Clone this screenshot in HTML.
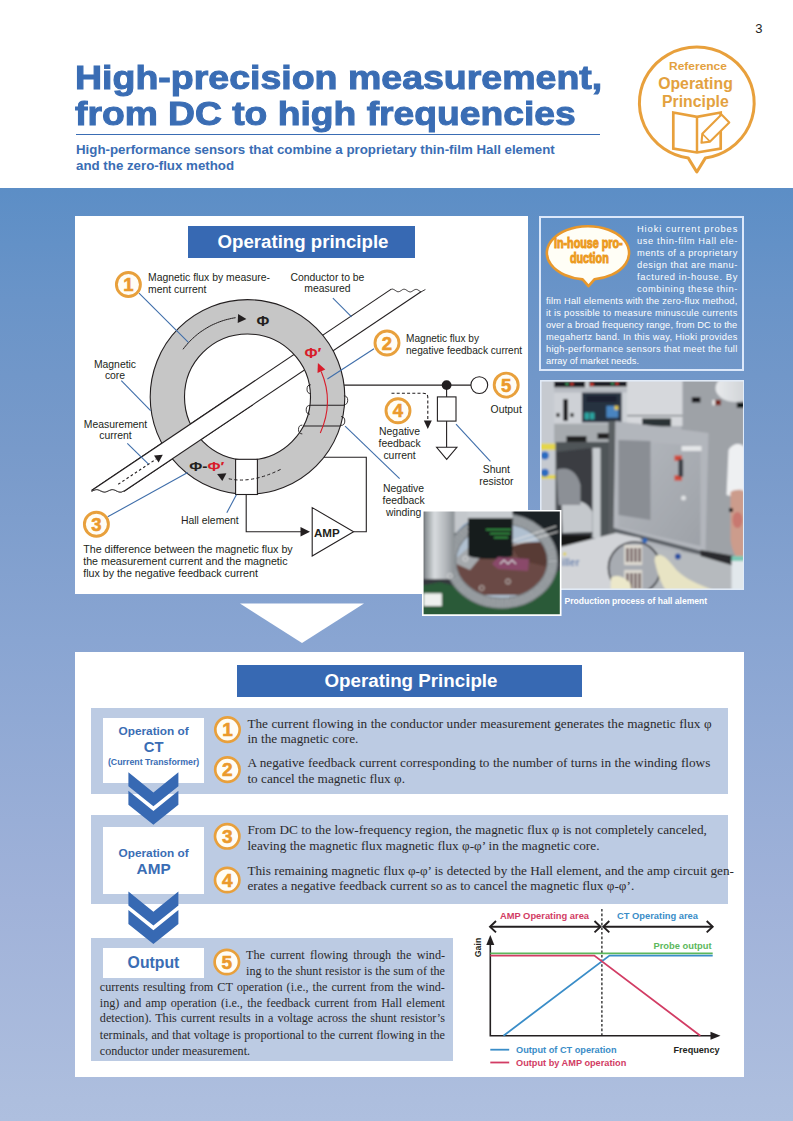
<!DOCTYPE html>
<html><head><meta charset="utf-8">
<style>
html,body{margin:0;padding:0;}
body{width:793px;height:1121px;position:relative;overflow:hidden;background:#fff;font-family:"Liberation Sans",sans-serif;}
.a{position:absolute;}
#band{left:0;top:188px;width:793px;height:933px;background:linear-gradient(rgb(92,142,198) 0px,rgb(106,148,200) 112px,rgb(120,154,202) 262px,rgb(137,165,210) 452px,rgb(160,178,217) 712px,rgb(173,190,222) 912px,rgb(174,191,223) 933px);}
#pnum{left:755.3px;top:20.5px;font-size:13px;color:#222;}
.t1{font-weight:bold;font-size:33.2px;line-height:40px;color:#3a6db4;white-space:nowrap;-webkit-text-stroke:1px #3a6db4;transform-origin:0 0;transform:scaleX(1.13);}
#tline{left:76px;top:134px;width:524px;height:1.3px;background:#3a6db4;}
#sub{left:76px;top:142px;font-weight:bold;font-size:13.3px;line-height:16px;color:#3a6db4;white-space:nowrap;}
.wbox{background:#fff;}
.tbar{background:#3769b3;color:#fff;font-weight:bold;text-align:center;box-sizing:border-box;padding-left:3px;}
.serif{font-family:"Liberation Serif",serif;color:#2a2a2a;font-size:13px;line-height:15.7px;white-space:nowrap;}
.panel{background:#bccbe3;}
.lab{background:#fff;color:#3a6db4;font-weight:bold;text-align:center;}
#info{left:546px;top:222px;width:191px;font-size:9.1px;line-height:12px;color:#fff;text-align:justify;}
</style></head>
<body>
<div class="a" id="pnum">3</div>
<div class="a t1" style="left:75px;top:58px;">High-precision measurement,</div>
<div class="a t1" style="left:75px;top:94px;transform:scaleX(1.122);">from DC to high frequencies</div>
<div class="a" id="tline"></div>
<div class="a" id="sub">High-performance sensors that combine a proprietary thin-film Hall element<br>and the zero-flux method</div>

<div class="a" id="band"></div>

<div class="a wbox" style="left:75px;top:216px;width:453px;height:378px;"></div>
<div class="a tbar" style="left:188px;top:226px;width:227px;height:32px;font-size:18.65px;line-height:32px;">Operating principle</div>

<div class="a" style="left:539px;top:216px;width:201px;height:151px;border:2px solid #dce8fa;"></div>

<div class="a wbox" style="left:75px;top:652px;width:669px;height:425px;"></div>
<div class="a tbar" style="left:237px;top:665px;width:345px;height:32px;font-size:18.75px;line-height:32.6px;">Operating Principle</div>

<div class="a panel" style="left:91px;top:708px;width:637px;height:86px;"></div>
<div class="a panel" style="left:91px;top:815px;width:637px;height:89px;"></div>
<div class="a panel" style="left:91px;top:938px;width:362px;height:123px;"></div>

<div class="a lab" style="left:103px;top:718px;width:101px;height:65px;"></div>
<div class="a lab" style="left:103px;top:827px;width:101px;height:67px;"></div>
<div class="a lab" style="left:103px;top:948px;width:101px;height:30px;"></div>

<svg class="a" style="left:539.5px;top:380px" width="204.5" height="210" viewBox="539.5 380 204.5 210">
<defs><filter id="bl1" x="-5%" y="-5%" width="110%" height="110%"><feGaussianBlur stdDeviation="0.9"/></filter>
<linearGradient id="dg" x1="0" y1="0" x2="1" y2="1"><stop offset="0" stop-color="#b4b8be"/><stop offset="1" stop-color="#9ea2a8"/></linearGradient>
<linearGradient id="cl" x1="0" y1="0" x2="1" y2="0"><stop offset="0" stop-color="#e8eaec"/><stop offset="1" stop-color="#c8ccd0"/></linearGradient></defs>
<g filter="url(#bl1)">
<rect x="535" y="376" width="215" height="220" fill="#b0b4ba"/>
<!-- right cabinet -->
<rect x="681" y="376" width="70" height="185" fill="#9ea2a7"/>
<rect x="691.3" y="397.2" width="8.6" height="5.3" fill="#16181a"/>
<rect x="711.8" y="399.9" width="3" height="5.3" fill="#e8e8e8"/>
<rect x="714.8" y="399.9" width="5.6" height="5.3" fill="#7a2a22"/>
<rect x="736.3" y="402.5" width="8" height="5.3" fill="#101214"/>
<ellipse cx="735" cy="388" rx="20" ry="14" fill="url(#cl)"/>
<!-- top light panel right -->
<rect x="626" y="376" width="56" height="50" fill="#d6d8dc"/>
<rect x="626" y="415" width="56" height="1.2" fill="#6a6e72"/>
<rect x="641.6" y="418.4" width="29" height="8" fill="#2a3036"/>
<!-- left column -->
<rect x="535" y="376" width="20.5" height="140" fill="#c6cad0"/>
<rect x="535" y="443.6" width="20" height="6.4" fill="#e4d64c"/>
<rect x="535" y="475" width="20" height="4" fill="#e4d64c"/>
<circle cx="544.3" cy="455.5" r="4" fill="#2a6cc0"/>
<circle cx="544.3" cy="472.7" r="4" fill="#2a6cc0"/>
<!-- control panel -->
<rect x="553.6" y="376" width="73" height="48" fill="#ced1d6"/>
<rect x="553.6" y="381.3" width="31" height="6" fill="#16181a"/>
<rect x="588.7" y="381.3" width="37.7" height="5.3" fill="#16181a"/>
<circle cx="591.3" cy="384.4" r="1.9" fill="#d03028"/>
<circle cx="571.4" cy="384" r="1.7" fill="#d03028"/>
<circle cx="566.5" cy="384" r="1.4" fill="#38a060"/>
<circle cx="612" cy="383.6" r="1.4" fill="#38a060"/>
<circle cx="616.5" cy="383.6" r="1.6" fill="#d03028"/>
<rect x="553.6" y="388" width="73" height="4.5" fill="#b8bcc2"/>
<rect x="562.8" y="399" width="4.7" height="22" fill="#1a1c1e"/>
<rect x="556" y="413" width="3" height="4" fill="#1a1c1e"/>
<rect x="570" y="413" width="3" height="4" fill="#1a1c1e"/>
<rect x="581.4" y="392.6" width="39.7" height="29.8" fill="#283040"/>
<rect x="584" y="412.5" width="4.5" height="7" fill="#2aa4a0"/>
<rect x="589.5" y="412.5" width="4.5" height="7" fill="#2aa4a0"/>
<rect x="605.9" y="405.8" width="11.9" height="11.9" fill="#4a84c0"/>
<rect x="614" y="405.8" width="3.8" height="4" fill="#e0c44a"/>
<rect x="586" y="396" width="30" height="6" fill="#1a2230"/>
<!-- opening band -->
<rect x="553.6" y="423.7" width="86" height="18.5" fill="#a6aaae"/>
<rect x="566" y="436" width="20" height="6" fill="#202224"/>
<rect x="597" y="433" width="14" height="6" fill="#202224"/>
<!-- machine interior -->
<rect x="555" y="442" width="58" height="105" fill="#505458"/>
<path d="M556,452 L590,448 L596,470 L596,540 L560,545 Z" fill="#3a3e42"/>
<path d="M561,505 C570,498 585,498 592,512 L592,532 L562,533 Z" fill="#c4c8cc"/>
<path d="M556,470 C566,466 576,470 580,485 L580,505 L558,505 Z" fill="#8c9096"/>
<rect x="592" y="448" width="8" height="90" fill="#c8ccd0"/>
<rect x="560" y="535" width="30" height="12" fill="#141618"/>
<rect x="608" y="421" width="7" height="125" fill="#5a5e62"/>
<!-- door -->
<polygon points="615,421 708,433 705,552 613,528" fill="#b2b6bc"/>
<polygon points="620,440 700,446 700,546 618,527" fill="url(#dg)"/>
<polygon points="618,440 650,441 650,520 618,515" fill="#8a8e94"/>
<rect x="674" y="455.5" width="7.4" height="5.3" fill="#d04a3a"/>
<rect x="674" y="475.3" width="7.4" height="5.3" fill="#d04a3a"/>
<rect x="678" y="459.4" width="4.6" height="17.3" fill="#3a3e44"/>
<rect x="681" y="446" width="20" height="5" fill="#e4e6e8"/>
<circle cx="683" cy="498" r="2.5" fill="#dfe1e3"/>
<polygon points="613,528 705,552 705,556 613,532" fill="#5c6066"/>
<!-- machine base -->
<polygon points="560,547 615,533 640,538 640,596 560,596" fill="#d2d4d8"/>
<text x="561" y="566" font-family="Liberation Sans" font-weight="bold" font-size="10" fill="#6a84b0">iller</text>
<circle cx="564.2" cy="553.9" r="1.6" fill="#e0d040"/>
<!-- floor -->
<polygon points="640,545 705,556 734,560 734,596 640,596" fill="#b6babe"/>
<polygon points="700,550 734,556 734,566 700,556" fill="#2a2c2e"/>
<!-- wafer -->
<ellipse cx="634" cy="568" rx="26" ry="26" fill="#a8acb2" stroke="#2a2c30" stroke-width="1.6"/>
<rect x="623.7" y="545" width="18" height="20" fill="#dedad2"/>
<rect x="626" y="548" width="2" height="14" fill="#4a3036"/>
<rect x="630" y="548" width="2" height="14" fill="#4a3036"/>
<rect x="634" y="548" width="2" height="14" fill="#4a3036"/>
<rect x="638" y="548" width="2" height="14" fill="#4a3036"/>
<rect x="623.7" y="570" width="18" height="20" fill="#dedad2"/>
<rect x="626" y="573" width="2" height="16" fill="#4a3036"/>
<rect x="630" y="573" width="2" height="16" fill="#4a3036"/>
<rect x="634" y="573" width="2" height="16" fill="#4a3036"/>
<rect x="638" y="573" width="2" height="16" fill="#4a3036"/>
<circle cx="644.3" cy="540.6" r="2.5" fill="#2a64b8"/>
<circle cx="677.4" cy="556.5" r="3" fill="#2a50a0"/>
<!-- gloves -->
<path d="M655,556 C662,552 668,560 676,570 C686,580 698,584 712,590 L668,594 C660,585 656,570 654,560 Z" fill="#e8e4c4"/>
<path d="M610.5,578 C615,574 624,576 630,584 L632,594 L610,594 Z" fill="#ece8ca"/>
<!-- person -->
<path d="M728,450 C734,440 744,444 746,450 L746,500 L726,495 Z" fill="#eef0f2"/>
<path d="M730,492 C736,488 746,490 746,494 L746,560 C738,562 732,555 730,540 Z" fill="#cc9c8c"/>
<ellipse cx="737" cy="520" rx="5" ry="8" fill="#c87870"/>
<rect x="728.5" y="508" width="4" height="4" fill="#202020"/>
<rect x="731" y="556" width="15" height="6" fill="#7ac8b4"/>
<rect x="731" y="561" width="15" height="35" fill="#e2e8ec"/>
</g>
<rect x="540.3" y="380.8" width="202.9" height="208.4" fill="none" stroke="#e2ecf8" stroke-width="1.5"/>
</svg>
<svg class="a" style="left:420px;top:508px" width="144" height="110" viewBox="420 508 144 110">
<defs><filter id="bl2" x="-5%" y="-5%" width="110%" height="110%"><feGaussianBlur stdDeviation="0.9"/></filter>
<linearGradient id="cyl" x1="0" y1="0" x2="1" y2="0"><stop offset="0" stop-color="#7c8286"/><stop offset="0.35" stop-color="#d8dcdf"/><stop offset="0.7" stop-color="#b4b8bc"/><stop offset="1" stop-color="#8a9094"/></linearGradient>
<clipPath id="spc"><rect x="423.6" y="511.6" width="136.2" height="102.6"/></clipPath></defs>
<rect x="422" y="510" width="139.5" height="106" fill="#fff"/>
<g clip-path="url(#spc)"><g filter="url(#bl2)">
<rect x="420" y="508" width="144" height="110" fill="#34393e"/>
<rect x="440" y="508" width="75" height="25" fill="#c4c8cc"/>
<rect x="512" y="508" width="50" height="55" fill="#1e2226"/>
<polygon points="420,586 440,582 500,598 560,570 564,570 564,618 420,618" fill="#2a5a38"/>
<ellipse cx="501.7" cy="561" rx="50.8" ry="42.2" fill="#b0c0d0"/>
<path d="M452,545 C458,530 466,524 476,520" stroke="#4a90d8" stroke-width="3" fill="none"/>
<polygon points="449,572 470,546 552,541 552,582 524,595 474,595" fill="#6a4a44"/>
<polygon points="510,545 552,541 552,568 520,560" fill="#583a36"/>
<polygon points="452,562 470,546 490,546 470,570" fill="#a4a8ac"/>
<ellipse cx="501.7" cy="561" rx="50.8" ry="42.2" fill="none" stroke="#7c8286" stroke-width="11"/>
<ellipse cx="501.7" cy="561" rx="50.8" ry="42.2" fill="none" stroke="#b8bcc0" stroke-width="8.5" stroke-dasharray="1.1,1.6"/>
<rect x="423.6" y="508" width="31" height="71" fill="url(#cyl)"/>
<rect x="467.5" y="508" width="45" height="11" fill="#c8ccd0"/>
<rect x="468" y="518" width="44.6" height="37" fill="#181c1c"/>
<ellipse cx="490.3" cy="555" rx="22.3" ry="4" fill="#181c1c"/>
<rect x="486" y="529" width="25" height="1.3" fill="#3aa04a"/>
<rect x="490" y="533" width="20" height="1.3" fill="#3aa04a"/>
<rect x="494" y="537" width="14" height="1.3" fill="#3aa04a"/>
<polygon points="492,564 498,557 529,559 528,571 498,569" fill="#8a4a6a"/>
<polyline points="500,564 504,560 508,564 512,560 516,564" stroke="#eeeef4" stroke-width="1" fill="none"/>
<line x1="512.6" y1="540.7" x2="556.2" y2="526.2" stroke="#e4e4e4" stroke-width="1"/>
<line x1="512.6" y1="545.2" x2="558" y2="531.6" stroke="#e4e4e4" stroke-width="1"/>
<circle cx="465.4" cy="558.8" r="2.4" fill="none" stroke="#e8e8e8" stroke-width="0.8"/>
<circle cx="450" cy="576" r="2.4" fill="none" stroke="#e8e8e8" stroke-width="0.8"/>
<circle cx="481.7" cy="588" r="2.4" fill="none" stroke="#d8d8d8" stroke-width="0.8"/>
<circle cx="508" cy="581.5" r="2.4" fill="none" stroke="#d8d8d8" stroke-width="0.8"/>
<rect x="423.6" y="593.3" width="18.2" height="12.7" fill="#eef0ee"/>
</g></g>
</svg>

<svg class="a" style="left:0;top:0" width="793" height="1121" viewBox="0 0 793 1121" font-family="Liberation Sans, sans-serif">
<polygon points="240,603.5 364,603.5 302,643" fill="#fff"/>
<path d="M705.3,158.1 A57.4,55.8 0 1,0 688.3,158.1 L696.8,172 Z" fill="#fff" stroke="#e8a03c" stroke-width="3" stroke-linejoin="round"/>
<text transform="translate(698,69.7) scale(1.07,1)" text-anchor="middle" font-weight="bold" font-size="11.2" fill="#e3a13e">Reference</text>
<text x="695.5" y="89.4" text-anchor="middle" font-weight="bold" font-size="15.8" fill="#e3a13e">Operating</text>
<text x="695.4" y="106.7" text-anchor="middle" font-weight="bold" font-size="15.8" fill="#e3a13e">Principle</text>
<path d="M673.3,112.5 L697,116.8 L720.7,112.5 L720.7,148.5 L697,152.5 L673.3,148.5 Z" fill="none" stroke="#e8a03c" stroke-width="2.7" stroke-linejoin="miter"/>
<line x1="697" y1="116.8" x2="697" y2="152.5" stroke="#e8a03c" stroke-width="2.5"/>
<path d="M701.5,142.8 L702.3,133.8 L721.5,114.6 L729.3,122.4 L710.1,141.6 Z" fill="#fff" stroke="#e8a03c" stroke-width="2.1" stroke-linejoin="round"/>
<line x1="702.3" y1="133.8" x2="710.1" y2="141.6" stroke="#e8a03c" stroke-width="1.6"/>
<g id="bar"><polygon points="91.6,490.5 391.3,289.1 391.3,289.2 392.0,289.1 392.8,289.1 393.5,289.4 394.3,289.8 395.0,290.2 395.8,290.8 396.5,291.2 397.2,291.6 398.0,291.7 398.7,291.7 399.5,291.5 400.2,291.1 401.0,290.7 401.7,290.2 402.4,289.7 403.2,289.4 403.9,289.2 404.7,289.3 405.4,289.5 406.1,289.9 406.9,290.4 407.6,290.9 408.4,291.4 409.1,291.7 409.9,291.9 410.6,291.9 411.3,291.7 412.1,291.3 412.8,290.8 413.6,290.3 414.3,289.9 415.1,289.6 415.8,289.4 416.5,289.4 417.3,289.6 418.0,290.0 418.8,290.5 419.5,291.0 420.3,291.5 421.0,291.9 421.0,291.7 124.0,491.3 124.0,490.9 123.2,491.3 122.4,491.6 121.6,491.9 120.8,492.0 120.0,492.0 119.1,491.9 118.3,491.7 117.5,491.4 116.7,491.0 115.9,490.6 115.1,490.2 114.3,489.9 113.5,489.7 112.7,489.6 111.8,489.6 111.0,489.8 110.2,490.0 109.4,490.4 108.6,490.7 107.8,491.1 107.0,491.5 106.2,491.7 105.4,491.9 104.6,492.0 103.8,491.9 102.9,491.8 102.1,491.5 101.3,491.1 100.5,490.8 99.7,490.4 98.9,490.0 98.1,489.8 97.3,489.6 96.5,489.6 95.6,489.7 94.8,489.9 94.0,490.1 93.2,490.5 92.4,490.9 91.6,491.3" fill="#fff"/><polyline points="91.6,490.5 391.3,289.1" fill="none" stroke="#231f20" stroke-width="1.1"/><polyline points="421.0,291.7 124.0,491.3" fill="none" stroke="#231f20" stroke-width="1.1"/><polyline points="391.3,289.2 392.0,289.1 392.8,289.1 393.5,289.4 394.3,289.8 395.0,290.2 395.8,290.8 396.5,291.2 397.2,291.6 398.0,291.7 398.7,291.7 399.5,291.5 400.2,291.1 401.0,290.7 401.7,290.2 402.4,289.7 403.2,289.4 403.9,289.2 404.7,289.3 405.4,289.5 406.1,289.9 406.9,290.4 407.6,290.9 408.4,291.4 409.1,291.7 409.9,291.9 410.6,291.9 411.3,291.7 412.1,291.3 412.8,290.8 413.6,290.3 414.3,289.9 415.1,289.6 415.8,289.4 416.5,289.4 417.3,289.6 418.0,290.0 418.8,290.5 419.5,291.0 420.3,291.5 421.0,291.9 425.4,289.5" fill="none" stroke="#231f20" stroke-width="0.9" stroke-linejoin="round"/><polyline points="124.0,490.9 123.2,491.3 122.4,491.6 121.6,491.9 120.8,492.0 120.0,492.0 119.1,491.9 118.3,491.7 117.5,491.4 116.7,491.0 115.9,490.6 115.1,490.2 114.3,489.9 113.5,489.7 112.7,489.6 111.8,489.6 111.0,489.8 110.2,490.0 109.4,490.4 108.6,490.7 107.8,491.1 107.0,491.5 106.2,491.7 105.4,491.9 104.6,492.0 103.8,491.9 102.9,491.8 102.1,491.5 101.3,491.1 100.5,490.8 99.7,490.4 98.9,490.0 98.1,489.8 97.3,489.6 96.5,489.6 95.6,489.7 94.8,489.9 94.0,490.1 93.2,490.5 92.4,490.9 91.6,491.3" fill="none" stroke="#231f20" stroke-width="0.9" stroke-linejoin="round"/><line x1="118.2" y1="484.3" x2="156.4" y2="458.9" stroke="#231f20" stroke-width="1.1" stroke-dasharray="2.6,2.4"/><polygon points="162.8,454.7 158.6,462.5 154.0,455.5" fill="#231f20"/></g>
<path d="M150.2,397 a97.3,97.3 0 1,0 194.6,0 a97.3,97.3 0 1,0 -194.6,0 Z M184.5,397 a63,63 0 1,0 126,0 a63,63 0 1,0 -126,0 Z" fill="#c6c6c6" fill-rule="evenodd" stroke="#231f20" stroke-width="1.1"/>
<clipPath id="ll"><polygon points="805.5,1227.0 -24.5,1785.0 -1140.5,125.0 -310.5,-433.0"/></clipPath>
<g clip-path="url(#ll)"><polygon points="91.6,490.5 391.3,289.1 391.3,289.2 392.0,289.1 392.8,289.1 393.5,289.4 394.3,289.8 395.0,290.2 395.8,290.8 396.5,291.2 397.2,291.6 398.0,291.7 398.7,291.7 399.5,291.5 400.2,291.1 401.0,290.7 401.7,290.2 402.4,289.7 403.2,289.4 403.9,289.2 404.7,289.3 405.4,289.5 406.1,289.9 406.9,290.4 407.6,290.9 408.4,291.4 409.1,291.7 409.9,291.9 410.6,291.9 411.3,291.7 412.1,291.3 412.8,290.8 413.6,290.3 414.3,289.9 415.1,289.6 415.8,289.4 416.5,289.4 417.3,289.6 418.0,290.0 418.8,290.5 419.5,291.0 420.3,291.5 421.0,291.9 421.0,291.7 124.0,491.3 124.0,490.9 123.2,491.3 122.4,491.6 121.6,491.9 120.8,492.0 120.0,492.0 119.1,491.9 118.3,491.7 117.5,491.4 116.7,491.0 115.9,490.6 115.1,490.2 114.3,489.9 113.5,489.7 112.7,489.6 111.8,489.6 111.0,489.8 110.2,490.0 109.4,490.4 108.6,490.7 107.8,491.1 107.0,491.5 106.2,491.7 105.4,491.9 104.6,492.0 103.8,491.9 102.9,491.8 102.1,491.5 101.3,491.1 100.5,490.8 99.7,490.4 98.9,490.0 98.1,489.8 97.3,489.6 96.5,489.6 95.6,489.7 94.8,489.9 94.0,490.1 93.2,490.5 92.4,490.9 91.6,491.3" fill="#fff"/><polyline points="91.6,490.5 391.3,289.1" fill="none" stroke="#231f20" stroke-width="1.1"/><polyline points="421.0,291.7 124.0,491.3" fill="none" stroke="#231f20" stroke-width="1.1"/><polyline points="391.3,289.2 392.0,289.1 392.8,289.1 393.5,289.4 394.3,289.8 395.0,290.2 395.8,290.8 396.5,291.2 397.2,291.6 398.0,291.7 398.7,291.7 399.5,291.5 400.2,291.1 401.0,290.7 401.7,290.2 402.4,289.7 403.2,289.4 403.9,289.2 404.7,289.3 405.4,289.5 406.1,289.9 406.9,290.4 407.6,290.9 408.4,291.4 409.1,291.7 409.9,291.9 410.6,291.9 411.3,291.7 412.1,291.3 412.8,290.8 413.6,290.3 414.3,289.9 415.1,289.6 415.8,289.4 416.5,289.4 417.3,289.6 418.0,290.0 418.8,290.5 419.5,291.0 420.3,291.5 421.0,291.9 425.4,289.5" fill="none" stroke="#231f20" stroke-width="0.9" stroke-linejoin="round"/><polyline points="124.0,490.9 123.2,491.3 122.4,491.6 121.6,491.9 120.8,492.0 120.0,492.0 119.1,491.9 118.3,491.7 117.5,491.4 116.7,491.0 115.9,490.6 115.1,490.2 114.3,489.9 113.5,489.7 112.7,489.6 111.8,489.6 111.0,489.8 110.2,490.0 109.4,490.4 108.6,490.7 107.8,491.1 107.0,491.5 106.2,491.7 105.4,491.9 104.6,492.0 103.8,491.9 102.9,491.8 102.1,491.5 101.3,491.1 100.5,490.8 99.7,490.4 98.9,490.0 98.1,489.8 97.3,489.6 96.5,489.6 95.6,489.7 94.8,489.9 94.0,490.1 93.2,490.5 92.4,490.9 91.6,491.3" fill="none" stroke="#231f20" stroke-width="0.9" stroke-linejoin="round"/><line x1="118.2" y1="484.3" x2="156.4" y2="458.9" stroke="#231f20" stroke-width="1.1" stroke-dasharray="2.6,2.4"/><polygon points="162.8,454.7 158.6,462.5 154.0,455.5" fill="#231f20"/></g>
<line x1="310.0" y1="405.3" x2="344.4" y2="405.3" stroke="#231f20" stroke-width="1.1"/>
<line x1="303.4" y1="426" x2="340.4" y2="426" stroke="#231f20" stroke-width="1.1"/>
<path d="M310.8,384.8 a3.8,4.4 0 0,0 0,8.8" fill="none" stroke="#231f20" stroke-width="0.9"/>
<path d="M310.0,405.4 a3.8,4.4 0 0,0 0,8.8" fill="none" stroke="#231f20" stroke-width="0.9"/>
<path d="M302.3,425.1 a3.8,4.4 0 0,0 0,8.8" fill="none" stroke="#231f20" stroke-width="0.9"/>
<path d="M343.9,395.9 a3.8,4.4 0 0,1 0,8.8" fill="none" stroke="#231f20" stroke-width="0.9"/>
<path d="M341.0,416.6 a3.8,4.4 0 0,1 0,8.8" fill="none" stroke="#231f20" stroke-width="0.9"/>
<polyline points="344.1,385.1 471,385.1" fill="none" stroke="#231f20" stroke-width="1.1"/>
<polyline points="323.9,457.2 366.3,457.2 366.3,531.8 353.6,531.8" fill="none" stroke="#231f20" stroke-width="1.1"/>
<rect x="235.6" y="459.3" width="21.8" height="35.2" fill="#fff" stroke="#231f20" stroke-width="1.1"/>
<path d="M280.6,469.4 Q250,484.5 226.5,478.2" fill="none" stroke="#231f20" stroke-width="1" stroke-dasharray="3.2,2.4"/>
<polygon points="217.1,474 226.4,473.2 222.3,481" fill="#231f20"/>
<polyline points="183.0,349.3 184.3,347.6 185.6,346.0 187.0,344.4 188.4,342.8 189.8,341.3 191.3,339.8 192.8,338.3 194.4,336.9 195.9,335.6 197.6,334.2 199.2,332.9 200.9,331.7 202.7,330.5 204.4,329.4 206.2,328.3 208.0,327.2 209.8,326.2 211.7,325.2 213.6,324.3 215.5,323.5 217.5,322.6 219.4,321.9 221.4,321.2 223.4,320.5 225.4,319.9 227.4,319.4 229.5,318.9 231.5,318.4 233.6,318.0 235.6,317.7" fill="none" stroke="#231f20" stroke-width="1"/>
<polygon points="246.4,318.9 237.7,323.1 238.1,314.1" fill="#231f20"/>
<path d="M320.3,433 Q334.2,402 321.2,371.5" fill="none" stroke="#d81c2a" stroke-width="1.1"/>
<polygon points="317.9,363.0 325.3,369.6 317.5,372.9" fill="#d81c2a"/>
<polyline points="246.2,494.5 246.2,531.8 302,531.8" fill="none" stroke="#231f20" stroke-width="1.1"/>
<polygon points="310.0,531.8 300.5,536.5 300.5,527.0" fill="#231f20"/>
<polygon points="312.2,507.6 312.2,556 353.6,531.8" fill="#fff" stroke="#231f20" stroke-width="1.1"/>
<text x="314" y="537" font-weight="bold" font-size="11.6" fill="#231f20">AMP</text>
<circle cx="446.6" cy="385.1" r="4.9" fill="#231f20"/>
<circle cx="479.3" cy="385.1" r="8.4" fill="#fff" stroke="#231f20" stroke-width="1.1"/>
<line x1="446.6" y1="385.1" x2="446.6" y2="447.3" stroke="#231f20" stroke-width="1.1"/>
<rect x="437.4" y="396.9" width="18.6" height="24.2" fill="#fff" stroke="#231f20" stroke-width="1.1"/>
<polygon points="436.6,447.3 456.9,447.3 446.7,459.4" fill="#fff" stroke="#231f20" stroke-width="1.1"/>
<path d="M391.5,393.3 L423.5,393.3 Q427.8,393.3 427.8,397.6 L427.8,421" fill="none" stroke="#231f20" stroke-width="1.1" stroke-dasharray="3,2.2"/>
<polygon points="427.8,429.0 423.8,420.5 431.8,420.5" fill="#231f20"/>
<line x1="139" y1="293.2" x2="188.4" y2="342.3" stroke="#3f6eaa" stroke-width="1.1"/>
<line x1="121.3" y1="380.6" x2="150.6" y2="410.6" stroke="#3f6eaa" stroke-width="1.1"/>
<line x1="127.3" y1="443.4" x2="148.5" y2="464.2" stroke="#3f6eaa" stroke-width="1.1"/>
<line x1="107.7" y1="516.8" x2="187.7" y2="472.6" stroke="#3f6eaa" stroke-width="1.1"/>
<line x1="226.8" y1="512.8" x2="236.4" y2="494.7" stroke="#3f6eaa" stroke-width="1.1"/>
<line x1="332.9" y1="298.2" x2="351.6" y2="316.8" stroke="#3f6eaa" stroke-width="1.1"/>
<line x1="374" y1="348.7" x2="327.4" y2="379" stroke="#3f6eaa" stroke-width="1.1"/>
<line x1="456" y1="424.2" x2="490.4" y2="461.3" stroke="#3f6eaa" stroke-width="1.1"/>
<line x1="399.6" y1="478.7" x2="345.1" y2="426.2" stroke="#3f6eaa" stroke-width="1.1"/>
<text transform="translate(263,325.6) scale(1.04,1)" text-anchor="middle" font-weight="bold" font-size="15" fill="#231f20">Φ</text>
<text transform="translate(304.5,357.9) scale(1.04,1)" font-weight="bold" font-size="15.3" fill="#d81c2a">Φ′</text>
<text transform="translate(189.3,471.3) scale(1.22,1)" font-weight="bold" font-size="13" fill="#231f20">Φ-<tspan fill="#d81c2a">Φ′</tspan></text>
<circle cx="128.4" cy="284.5" r="12.0" fill="#fffdf6" stroke="#e8a03c" stroke-width="2.9"/><text x="128.4" y="291.1" text-anchor="middle" font-weight="bold" font-size="18.5" fill="#eb9a2c" stroke="#eb9a2c" stroke-width="0.6">1</text>
<circle cx="387" cy="343" r="12.0" fill="#fffdf6" stroke="#e8a03c" stroke-width="2.9"/><text x="387" y="349.6" text-anchor="middle" font-weight="bold" font-size="18.5" fill="#eb9a2c" stroke="#eb9a2c" stroke-width="0.6">2</text>
<circle cx="96.4" cy="524.3" r="12.0" fill="#fffdf6" stroke="#e8a03c" stroke-width="2.9"/><text x="96.4" y="530.9" text-anchor="middle" font-weight="bold" font-size="18.5" fill="#eb9a2c" stroke="#eb9a2c" stroke-width="0.6">3</text>
<circle cx="398" cy="410.7" r="12.0" fill="#fffdf6" stroke="#e8a03c" stroke-width="2.9"/><text x="398" y="417.3" text-anchor="middle" font-weight="bold" font-size="18.5" fill="#eb9a2c" stroke="#eb9a2c" stroke-width="0.6">4</text>
<circle cx="506.2" cy="385.1" r="12.0" fill="#fffdf6" stroke="#e8a03c" stroke-width="2.9"/><text x="506.2" y="391.70000000000005" text-anchor="middle" font-weight="bold" font-size="18.5" fill="#eb9a2c" stroke="#eb9a2c" stroke-width="0.6">5</text>
<text x="148.1" y="280.7" text-anchor="start" font-size="10.4" fill="#231f20">Magnetic flux by measure-</text>
<text x="148.1" y="292.8" text-anchor="start" font-size="10.4" fill="#231f20">ment current</text>
<text x="327.4" y="280.5" text-anchor="middle" font-size="10.4" fill="#231f20">Conductor to be</text>
<text x="327.4" y="292.2" text-anchor="middle" font-size="10.4" fill="#231f20">measured</text>
<text x="115" y="367.5" text-anchor="middle" font-size="10.4" fill="#231f20">Magnetic</text>
<text x="115" y="378.5" text-anchor="middle" font-size="10.4" fill="#231f20">core</text>
<text x="115.5" y="427.6" text-anchor="middle" font-size="10.4" fill="#231f20">Measurement</text>
<text x="115.5" y="438.7" text-anchor="middle" font-size="10.4" fill="#231f20">current</text>
<text x="406" y="342.3" text-anchor="start" font-size="10.1" fill="#231f20">Magnetic flux by</text>
<text x="406" y="353.8" text-anchor="start" font-size="10.1" fill="#231f20">negative feedback current</text>
<text x="506.2" y="412.9" text-anchor="middle" font-size="10.4" fill="#231f20">Output</text>
<text x="399.6" y="434.9" text-anchor="middle" font-size="10.4" fill="#231f20">Negative</text>
<text x="399.6" y="446.9" text-anchor="middle" font-size="10.4" fill="#231f20">feedback</text>
<text x="399.6" y="458.8" text-anchor="middle" font-size="10.4" fill="#231f20">current</text>
<text x="496.4" y="473.1" text-anchor="middle" font-size="10.4" fill="#231f20">Shunt</text>
<text x="496.4" y="485.3" text-anchor="middle" font-size="10.4" fill="#231f20">resistor</text>
<text x="403.6" y="492.2" text-anchor="middle" font-size="10.4" fill="#231f20">Negative</text>
<text x="403.6" y="503.9" text-anchor="middle" font-size="10.4" fill="#231f20">feedback</text>
<text x="403.6" y="515.6" text-anchor="middle" font-size="10.4" fill="#231f20">winding</text>
<text x="181" y="524" text-anchor="start" font-size="10.4" fill="#231f20">Hall element</text>
<text x="83.2" y="552.6" text-anchor="start" font-size="10.7" fill="#231f20">The difference between the magnetic flux by</text>
<text x="83.2" y="564.7" text-anchor="start" font-size="10.7" fill="#231f20">the measurement current and the magnetic</text>
<text x="83.2" y="576.7" text-anchor="start" font-size="10.7" fill="#231f20">flux by the negative feedback current</text>
<line x1="601.9" y1="909" x2="601.9" y2="1036" stroke="#111" stroke-width="1.2" stroke-dasharray="2.6,2"/>
<line x1="490" y1="926.7" x2="600.5" y2="926.7" stroke="#231f20" stroke-width="1.9"/>
<polyline points="496,921 490,926.7 496,932.4" fill="none" stroke="#231f20" stroke-width="1.9"/>
<polyline points="594.5,921 600.5,926.7 594.5,932.4" fill="none" stroke="#231f20" stroke-width="1.9"/>
<line x1="603.3" y1="926.7" x2="712.7" y2="926.7" stroke="#231f20" stroke-width="1.9"/>
<polyline points="609.3,921 603.3,926.7 609.3,932.4" fill="none" stroke="#231f20" stroke-width="1.9"/>
<polyline points="706.7,921 712.7,926.7 706.7,932.4" fill="none" stroke="#231f20" stroke-width="1.9"/>
<text x="544.5" y="919.3" text-anchor="middle" font-weight="bold" font-size="9.35" fill="#d23c64">AMP Operating area</text>
<text x="657.5" y="919.3" text-anchor="middle" font-weight="bold" font-size="9.35" fill="#3a8dc8">CT Operating area</text>
<polyline points="490.3,943 490.3,1035.7 712,1035.7" fill="none" stroke="#231f20" stroke-width="1.6"/>
<polygon points="490.3,935 486.3,945 494.3,945" fill="#231f20"/>
<polygon points="720.5,1035.7 710.5,1031.7 710.5,1039.7" fill="#231f20"/>
<text transform="translate(480.8,947.5) rotate(-90)" text-anchor="middle" font-weight="bold" font-size="8.8" fill="#231f20">Gain</text>
<line x1="490.3" y1="953.4" x2="712.7" y2="953.4" stroke="#5cb85c" stroke-width="1.8"/>
<polyline points="503.5,1035.7 609.5,955.6 712.7,955.6" fill="none" stroke="#3a8dc8" stroke-width="1.8"/>
<polyline points="490.3,955.6 594.3,955.6 700.3,1035.7" fill="none" stroke="#d23c64" stroke-width="1.8"/>
<text x="711.6" y="948.6" text-anchor="end" font-weight="bold" font-size="9.35" fill="#5cb85c">Probe output</text>
<line x1="490.3" y1="1049.7" x2="509.2" y2="1049.7" stroke="#3a8dc8" stroke-width="1.8"/>
<line x1="490.3" y1="1062.5" x2="509.2" y2="1062.5" stroke="#d23c64" stroke-width="1.8"/>
<text x="516" y="1052.9" font-weight="bold" font-size="9.2" fill="#3a8dc8">Output of CT operation</text>
<text x="516" y="1065.7" font-weight="bold" font-size="9.2" fill="#d23c64">Output by AMP operation</text>
<text x="719.6" y="1052.9" text-anchor="end" font-weight="bold" font-size="9.15" fill="#231f20">Frequency</text>
<circle cx="227.5" cy="729.6" r="12.2" fill="#fffdf6" stroke="#e8a03c" stroke-width="2.7"/><text x="227.5" y="736.4" text-anchor="middle" font-weight="bold" font-size="19" fill="#eb9a2c" stroke="#eb9a2c" stroke-width="0.6">1</text>
<circle cx="227.4" cy="769.6" r="12.2" fill="#fffdf6" stroke="#e8a03c" stroke-width="2.7"/><text x="227.4" y="776.4" text-anchor="middle" font-weight="bold" font-size="19" fill="#eb9a2c" stroke="#eb9a2c" stroke-width="0.6">2</text>
<circle cx="227.2" cy="836.3" r="12.2" fill="#fffdf6" stroke="#e8a03c" stroke-width="2.7"/><text x="227.2" y="843.0999999999999" text-anchor="middle" font-weight="bold" font-size="19" fill="#eb9a2c" stroke="#eb9a2c" stroke-width="0.6">3</text>
<circle cx="227.2" cy="880" r="12.2" fill="#fffdf6" stroke="#e8a03c" stroke-width="2.7"/><text x="227.2" y="886.8" text-anchor="middle" font-weight="bold" font-size="19" fill="#eb9a2c" stroke="#eb9a2c" stroke-width="0.6">4</text>
<circle cx="226.8" cy="962" r="12.2" fill="#fffdf6" stroke="#e8a03c" stroke-width="2.7"/><text x="226.8" y="968.8" text-anchor="middle" font-weight="bold" font-size="19" fill="#eb9a2c" stroke="#eb9a2c" stroke-width="0.6">5</text>
<text x="153.6" y="735.3" text-anchor="middle" font-weight="bold" font-size="11.8" fill="#3a6db4">Operation of</text>
<text x="153.6" y="751.5" text-anchor="middle" font-weight="bold" font-size="14.8" fill="#3a6db4">CT</text>
<text x="153.6" y="765" text-anchor="middle" font-weight="bold" font-size="8.8" fill="#3a6db4">(Current Transformer)</text>
<text x="153.6" y="857" text-anchor="middle" font-weight="bold" font-size="11.8" fill="#3a6db4">Operation of</text>
<text x="153.6" y="873.5" text-anchor="middle" font-weight="bold" font-size="15.3" fill="#3a6db4">AMP</text>
<text x="153.5" y="968" text-anchor="middle" font-weight="bold" font-size="15.8" fill="#3a6db4">Output</text>
<path d="M594.4,279.3 A41.1,26.7 0 1,0 582.6,279.4 L588.5,286.2 Z" fill="#fffef6" stroke="#e8982c" stroke-width="2.6" stroke-linejoin="round"/>
<text transform="translate(588.3,248.3) scale(0.78,1)" text-anchor="middle" font-weight="bold" font-size="13.8" fill="#ec9a1e" stroke="#ec9a1e" stroke-width="1">In-house pro-</text>
<text transform="translate(589.3,263.4) scale(0.78,1)" text-anchor="middle" font-weight="bold" font-size="13.8" fill="#ec9a1e" stroke="#ec9a1e" stroke-width="1">duction</text>
<text x="564.6" y="604" font-weight="bold" font-size="8.55" fill="#fff">Production process of hall alement</text>
<text x="0" y="0" transform="translate(247.4,727.8) scale(0.9886,1)" font-family="Liberation Serif" font-weight="normal" font-size="13.4" fill="#2b2a2c" word-spacing="0.126">The current flowing in the conductor under measurement generates the magnetic flux φ</text>
<text x="0" y="0" transform="translate(247.4,743.3) scale(0.9886,1)" font-family="Liberation Serif" font-weight="normal" font-size="13.4" fill="#2b2a2c">in the magnetic core.</text>
<text x="0" y="0" transform="translate(247.4,767.0) scale(0.9886,1)" font-family="Liberation Serif" font-weight="normal" font-size="13.4" fill="#2b2a2c" word-spacing="0.127">A negative feedback current corresponding to the number of turns in the winding flows</text>
<text x="0" y="0" transform="translate(247.4,782.6) scale(0.9886,1)" font-family="Liberation Serif" font-weight="normal" font-size="13.4" fill="#2b2a2c">to cancel the magnetic flux φ.</text>
<text x="0" y="0" transform="translate(247.4,833.7) scale(0.9886,1)" font-family="Liberation Serif" font-weight="normal" font-size="13.4" fill="#2b2a2c" word-spacing="0.069">From DC to the low-frequency region, the magnetic flux φ is not completely canceled,</text>
<text x="0" y="0" transform="translate(247.4,849.7) scale(0.9886,1)" font-family="Liberation Serif" font-weight="normal" font-size="13.4" fill="#2b2a2c">leaving the magnetic flux magnetic flux φ-φ’ in the magnetic core.</text>
<text x="0" y="0" transform="translate(247.4,874.8) scale(0.9886,1)" font-family="Liberation Serif" font-weight="normal" font-size="13.4" fill="#2b2a2c" word-spacing="0.070">This remaining magnetic flux φ-φ’ is detected by the Hall element, and the amp circuit gen-</text>
<text x="0" y="0" transform="translate(247.4,890.2) scale(0.9886,1)" font-family="Liberation Serif" font-weight="normal" font-size="13.4" fill="#2b2a2c">erates a negative feedback current so as to cancel the magnetic flux φ-φ’.</text>
<text x="0" y="0" transform="translate(246,958.8) scale(0.902,1)" font-family="Liberation Serif" font-weight="normal" font-size="13.5" fill="#2b2a2c" word-spacing="2.553">The current flowing through the wind-</text>
<text x="0" y="0" transform="translate(246,974.8) scale(0.902,1)" font-family="Liberation Serif" font-weight="normal" font-size="13.5" fill="#2b2a2c" word-spacing="0.165">ing to the shunt resistor is the sum of the</text>
<text x="0" y="0" transform="translate(99.8,990.7) scale(0.902,1)" font-family="Liberation Serif" font-weight="normal" font-size="13.5" fill="#2b2a2c" word-spacing="1.091">currents resulting from CT operation (i.e., the current from the wind-</text>
<text x="0" y="0" transform="translate(99.8,1006.5) scale(0.902,1)" font-family="Liberation Serif" font-weight="normal" font-size="13.5" fill="#2b2a2c" word-spacing="1.369">ing) and amp operation (i.e., the feedback current from Hall element</text>
<text x="0" y="0" transform="translate(99.8,1022.4) scale(0.902,1)" font-family="Liberation Serif" font-weight="normal" font-size="13.5" fill="#2b2a2c" word-spacing="0.963">detection). This current results in a voltage across the shunt resistor’s</text>
<text x="0" y="0" transform="translate(99.8,1038.5) scale(0.902,1)" font-family="Liberation Serif" font-weight="normal" font-size="13.5" fill="#2b2a2c" word-spacing="0.252">terminals, and that voltage is proportional to the current flowing in the</text>
<text x="0" y="0" transform="translate(99.8,1054.6) scale(0.902,1)" font-family="Liberation Serif" font-weight="normal" font-size="13.5" fill="#2b2a2c">conductor under measurement.</text>
<text x="637" y="232" font-family="Liberation Sans" font-weight="normal" font-size="9.3" fill="#ffffff" letter-spacing="0.900">Hioki current probes</text>
<text x="637" y="244" font-family="Liberation Sans" font-weight="normal" font-size="9.3" fill="#ffffff" letter-spacing="0.613">use thin-film Hall ele-</text>
<text x="637" y="256" font-family="Liberation Sans" font-weight="normal" font-size="9.3" fill="#ffffff" letter-spacing="0.470">ments of a proprietary</text>
<text x="637" y="268" font-family="Liberation Sans" font-weight="normal" font-size="9.3" fill="#ffffff" letter-spacing="0.492">design that are manu-</text>
<text x="637" y="280" font-family="Liberation Sans" font-weight="normal" font-size="9.3" fill="#ffffff" letter-spacing="0.622">factured in-house. By</text>
<text x="637" y="292" font-family="Liberation Sans" font-weight="normal" font-size="9.3" fill="#ffffff" letter-spacing="0.596">combining these thin-</text>
<text x="546" y="304" font-family="Liberation Sans" font-weight="normal" font-size="9.3" fill="#ffffff" letter-spacing="0.202">film Hall elements with the zero-flux method,</text>
<text x="546" y="316" font-family="Liberation Sans" font-weight="normal" font-size="9.3" fill="#ffffff" letter-spacing="0.255">it is possible to measure minuscule currents</text>
<text x="546" y="328" font-family="Liberation Sans" font-weight="normal" font-size="9.3" fill="#ffffff" letter-spacing="0.086">over a broad frequency range, from DC to the</text>
<text x="546" y="340" font-family="Liberation Sans" font-weight="normal" font-size="9.3" fill="#ffffff" letter-spacing="0.290">megahertz band. In this way, Hioki provides</text>
<text x="546" y="352" font-family="Liberation Sans" font-weight="normal" font-size="9.3" fill="#ffffff" letter-spacing="0.285">high-performance sensors that meet the full</text>
<text x="546" y="364" font-family="Liberation Sans" font-weight="normal" font-size="9.3" fill="#ffffff">array of market needs.</text>
<polygon points="128.4,772.2 153.4,792.5 178.4,772.2 178.4,786.3 153.4,806.2 128.4,786.3" fill="#3769b3"/><polygon points="128.4,790.7 153.4,811.0 178.4,790.7 178.4,804.8 153.4,824.7 128.4,804.8" fill="#3769b3"/>
<polygon points="128.4,891.5 153.4,911.8 178.4,891.5 178.4,905.6 153.4,925.5 128.4,905.6" fill="#3769b3"/><polygon points="128.4,910.0 153.4,930.3 178.4,910.0 178.4,924.1 153.4,944.0 128.4,924.1" fill="#3769b3"/>
</svg>
</body></html>
